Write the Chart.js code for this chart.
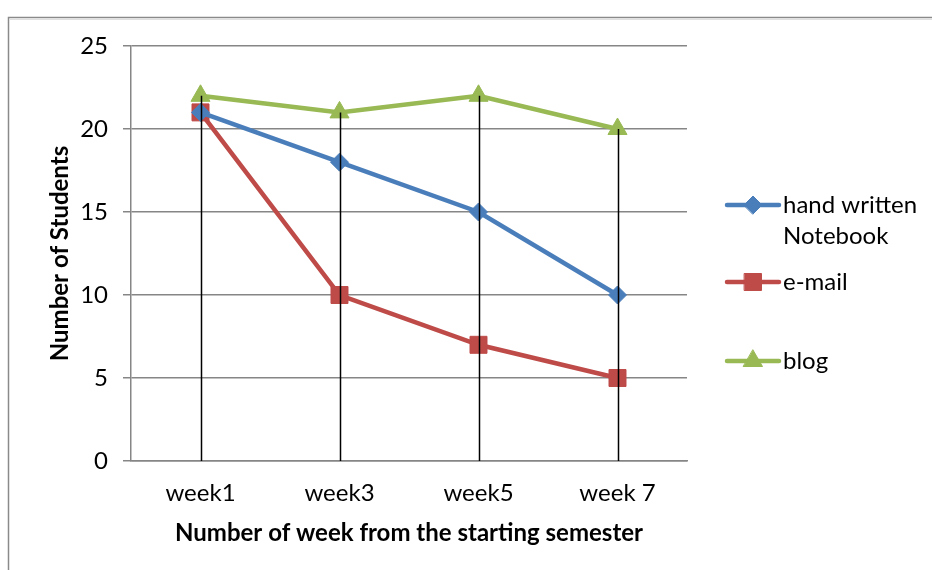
<!DOCTYPE html>
<html>
<head>
<meta charset="utf-8">
<script src="https://cdn.jsdelivr.net/npm/chart.js@4/dist/chart.umd.min.js"></script>
<style>
html,body{margin:0;padding:0;background:#fff;}
#wrap{width:932px;height:570px;position:relative;}
</style>
</head>
<body>
<div id="wrap"><canvas id="c" width="932" height="570"></canvas></div>
<script>
const categories = ["week1", "week3", "week5", "week 7"];
const handWritten = [21, 18, 15, 10];
const email = [21, 10, 7, 5];
const blog = [22, 21, 22, 20];
const seriesNames = [["hand written", "Notebook"], ["e-mail"], ["blog"]];
const yTicks = [0, 5, 10, 15, 20, 25];

const FONT = "Lato, 'Open Sans', sans-serif";
const colors = ["#4A7EBB", "#BE4B48", "#98B954"];
const styles = ["rectRot", "rect", "triangle"];
const radii = [9, 12, 11];

const borderPlugin = {
  id: 'outerBorder',
  beforeDraw(chart) {
    const ctx = chart.ctx;
    ctx.save();
    ctx.strokeStyle = "#8a8a8a";
    ctx.lineWidth = 1.5;
    ctx.strokeRect(8.5, 17.5, 2000, 2000);
    ctx.strokeStyle = "#e0e0e0";
    ctx.lineWidth = 1;
    ctx.beginPath(); ctx.moveTo(10, 19.5); ctx.lineTo(932, 19.5); ctx.stroke();
    ctx.restore();
  }
};

const dropLines = {
  id: 'dropLines',
  afterDatasetsDraw(chart) {
    const ctx = chart.ctx, xs = chart.scales.x, ys = chart.scales.y;
    ctx.save();
    ctx.strokeStyle = "#000";
    ctx.lineWidth = 1.5;
    categories.forEach((c, i) => {
      const mx = Math.max(...chart.data.datasets.map(d => d.data[i]));
      const x = Math.round(xs.getPixelForValue(i)) + 0.5;
      ctx.beginPath();
      ctx.moveTo(x, ys.getPixelForValue(mx));
      ctx.lineTo(x, ys.getPixelForValue(0));
      ctx.stroke();
    });
    ctx.restore();
  }
};

const legendPlugin = {
  id: 'customLegend',
  afterDraw(chart) {
    const ctx = chart.ctx;
    const rows = [205, 282, 361];
    ctx.save();
    chart.data.datasets.forEach((ds, i) => {
      const y = rows[i];
      ctx.strokeStyle = ds.borderColor;
      ctx.lineWidth = 4.5;
      ctx.lineCap = "round";
      ctx.beginPath(); ctx.moveTo(727, y); ctx.lineTo(779, y); ctx.stroke();
      ctx.fillStyle = ds.borderColor;
      ctx.lineWidth = 1;
      Chart.helpers.drawPoint(ctx, {pointStyle: ds.pointStyle, radius: ds.pointRadius, borderWidth: 1}, 753, y);
      ctx.fillStyle = "#000";
      ctx.font = "24px " + FONT;
      ctx.textBaseline = "middle";
      ctx.textAlign = "left";
      seriesNames[i].forEach((t, k) => ctx.fillText(t, 783, y + k * 31));
    });
    ctx.restore();
  }
};

const datasets = [handWritten, email, blog].map((d, i) => ({
  label: seriesNames[i].join(" "),
  data: d,
  borderColor: colors[i],
  backgroundColor: colors[i],
  pointBackgroundColor: colors[i],
  pointBorderColor: colors[i],
  borderWidth: 4.5,
  pointStyle: styles[i],
  pointRadius: radii[i],
  pointBorderWidth: 1,
  tension: 0
}));

new Chart(document.getElementById('c'), {
  type: 'line',
  data: { labels: categories, datasets },
  plugins: [borderPlugin, dropLines, legendPlugin],
  options: {
    responsive: false,
    animation: false,
    layout: { padding: { left: 38, right: 245, top: 46, bottom: 14 } },
    plugins: { legend: { display: false }, tooltip: { enabled: false } },
    scales: {
      x: {
        offset: true,
        grid: { display: false, drawTicks: false },
        border: { color: "#868686", width: 1.5 },
        ticks: { color: "#000", font: { family: FONT, size: 24 }, padding: 18 },
        title: { display: true, text: "Number of week from the starting semester", color: "#000",
                 font: { family: FONT, size: 24, weight: "bold" }, padding: { top: 8, bottom: 8 } },
        afterFit(s) { s.height = 95; }
      },
      y: {
        min: 0, max: 25,
        afterBuildTicks(s) { s.ticks = yTicks.map(v => ({ value: v })); },
        grid: { color: "#868686", lineWidth: 1.5, tickLength: 8, drawTicks: true, tickColor: "#868686" },
        border: { color: "#868686", width: 1.5 },
        ticks: { color: "#000", font: { family: FONT, size: 24 }, padding: 15 },
        title: { display: true, text: "Number of Students", color: "#000",
                 font: { family: FONT, size: 24, weight: "bold" }, padding: { top: 8, bottom: 0 } },
        afterFit(s) { s.width = 93; }
      }
    }
  }
});
</script>
</body>
</html>
